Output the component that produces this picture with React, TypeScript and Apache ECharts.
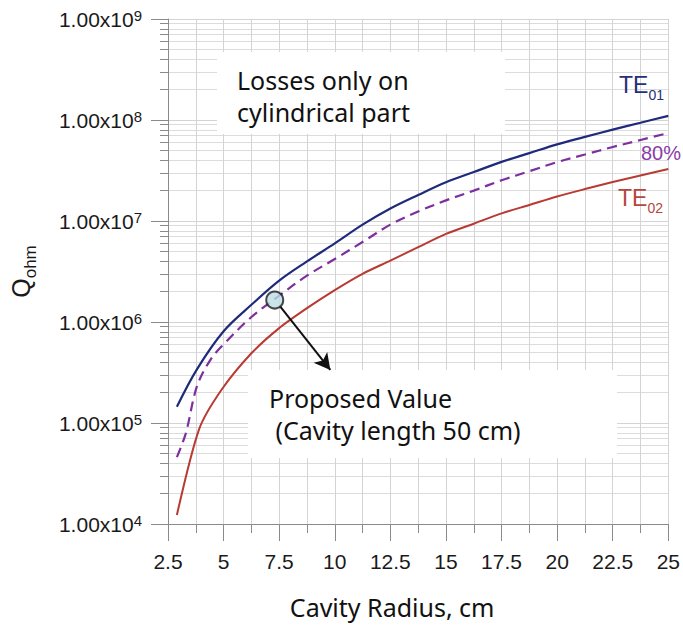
import React, { useEffect, useRef } from "react";
import * as echarts from "echarts";

// ---- data ----
const radiusTE01 = [2.9, 3.8, 5, 6.25, 7.5, 8.75, 10, 11.25, 12.5, 13.75, 15, 16.25, 17.5, 18.75, 20, 21.25, 22.5, 23.75, 25];
const qTE01 = [1.45e5, 3.4e5, 8.1e5, 1.48e6, 2.57e6, 3.98e6, 6.0e6, 9.2e6, 1.33e7, 1.81e7, 2.42e7, 3.05e7, 3.85e7, 4.7e7, 5.74e7, 6.8e7, 8.03e7, 9.4e7, 1.1e8];

const radius80 = [2.9, 3.3, 3.8, 4.4, 5, 6.25, 7.5, 8.75, 10, 11.25, 12.5, 13.75, 15, 16.25, 17.5, 18.75, 20, 21.25, 22.5, 23.75, 25];
const q80 = [4.6e4, 7.9e4, 2.3e5, 4.2e5, 6.0e5, 1.12e6, 1.82e6, 2.88e6, 4.2e6, 6.2e6, 9.2e6, 1.24e7, 1.6e7, 2.0e7, 2.53e7, 3.11e7, 3.83e7, 4.55e7, 5.4e7, 6.34e7, 7.43e7];

const radiusTE02 = [2.9, 3.9, 4.9, 6.25, 7.5, 8.75, 10, 11.25, 12.5, 13.75, 15, 16.25, 17.5, 18.75, 20, 21.25, 22.5, 23.75, 25];
const qTE02 = [1.23e4, 8.7e4, 2.12e5, 4.9e5, 8.7e5, 1.37e6, 2.07e6, 3.0e6, 4.05e6, 5.5e6, 7.45e6, 9.4e6, 1.19e7, 1.44e7, 1.75e7, 2.07e7, 2.43e7, 2.82e7, 3.27e7];

const proposedPoint = [7.3, 1.65e6];
const arrowStart = [7.55, 1.42e6];
const arrowEnd = [9.8, 3.35e5];

const xMin = 2.5;
const xMax = 25;
const xStep = 2.5;
const yMin = 1e4;
const yMax = 1e9;

const yTickMantissa = "1.00x10";
const xAxisTitle = "Cavity Radius, cm";
const noteTop = "Losses only on\ncylindrical part";
const noteBottom = "Proposed Value\n (Cavity length 50 cm)";

const SANS = "'Liberation Sans', Arial, sans-serif";
const COMIC = "'Comic Sans MS', 'Noto Sans', sans-serif";

const zip = (xs: number[], ys: number[]) => xs.map((x, i) => [x, ys[i]]);

export default function App() {
  const ref = useRef<HTMLDivElement>(null);

  useEffect(() => {
    document.body.style.margin = "0";
    if (!ref.current) return;
    const chart = echarts.init(ref.current, null, { renderer: "svg" });

    const option: any = {
      animation: false,
      backgroundColor: "#ffffff",
      grid: { left: 164, right: 12, top: 19, bottom: 102, containLabel: false },
      xAxis: {
        type: "value",
        min: xMin,
        max: xMax,
        interval: xStep,
        axisLine: { show: true, onZero: false, lineStyle: { color: "#8a8a8a", width: 1 } },
        axisTick: { show: true, length: 17, lineStyle: { color: "#8a8a8a" } },
        minorTick: { show: true, splitNumber: 2, length: 9, lineStyle: { color: "#8a8a8a" } },
        splitLine: { show: true, lineStyle: { color: "#d4d4d4", width: 1 } },
        minorSplitLine: { show: true, lineStyle: { color: "#d4d4d4", width: 1 } },
        axisLabel: { fontSize: 21, color: "#1a1a1a", margin: 27, fontFamily: SANS },
        name: xAxisTitle,
        nameLocation: "middle",
        nameGap: 70,
        nameTextStyle: { fontSize: 25, fontFamily: COMIC, color: "#111", padding: [0, 52, 0, 0] },
      },
      yAxis: {
        type: "log",
        logBase: 10,
        min: yMin,
        max: yMax,
        axisLine: { show: true, lineStyle: { color: "#8a8a8a", width: 1 } },
        axisTick: { show: true, length: 17, lineStyle: { color: "#8a8a8a" } },
        minorTick: { show: true, splitNumber: 9, length: 8, lineStyle: { color: "#8a8a8a" } },
        splitLine: { show: true, lineStyle: { color: "#d4d4d4", width: 1 } },
        minorSplitLine: { show: true, lineStyle: { color: "#dcdcdc", width: 1 } },
        axisLabel: {
          margin: 26,
          formatter: (v: number) => `{b|${yTickMantissa}}{s|${Math.round(Math.log10(v))}}`,
          rich: {
            b: { fontSize: 21, lineHeight: 21, verticalAlign: "bottom", color: "#1a1a1a", fontFamily: SANS },
            s: { fontSize: 15, lineHeight: 15, verticalAlign: "bottom", padding: [0, 0, 7, 0], color: "#1a1a1a", fontFamily: SANS },
          },
        },
        name: "{q|Q}{s|ohm}",
        nameLocation: "middle",
        nameRotate: 90,
        nameGap: 129,
        nameTextStyle: {
          rich: {
            q: { fontSize: 25, lineHeight: 25, verticalAlign: "bottom", padding: [0, 0, 6, 0], color: "#1a1a1a", fontFamily: SANS },
            s: { fontSize: 17, lineHeight: 17, verticalAlign: "bottom", color: "#1a1a1a", fontFamily: SANS },
          },
        },
      },
      series: [
        {
          name: "TE01",
          type: "line",
          data: zip(radiusTE01, qTE01),
          symbol: "none",
          smooth: 0.35,
          lineStyle: { color: "#1f2a7a", width: 2.2 },
          z: 3,
        },
        {
          name: "80%",
          type: "line",
          data: zip(radius80, q80),
          symbol: "none",
          smooth: 0.35,
          lineStyle: { color: "#7e2f9e", width: 2.2, type: [10, 6] },
          z: 3,
        },
        {
          name: "TE02",
          type: "line",
          data: zip(radiusTE02, qTE02),
          symbol: "none",
          smooth: 0.25,
          lineStyle: { color: "#b83a33", width: 2 },
          z: 3,
        },
        {
          name: "Proposed",
          type: "scatter",
          data: [proposedPoint],
          symbol: "circle",
          symbolSize: 17,
          itemStyle: { color: "#bcdfe5", borderColor: "#1b1b1b", borderWidth: 2 },
          z: 10,
          markLine: {
            silent: true,
            symbol: ["none", "arrow"],
            symbolSize: [13, 16],
            label: { show: false },
            lineStyle: { color: "#111", width: 2, type: "solid" },
            data: [[{ coord: arrowStart }, { coord: arrowEnd }]],
          },
        },
      ],
      graphic: [
        { type: "rect", z: 1, shape: { x: 217, y: 52, width: 288, height: 82 }, style: { fill: "#ffffff" } },
        {
          type: "text", z: 20, x: 237, y: 64,
          style: { text: noteTop, fontSize: 25, fontFamily: COMIC, fill: "#111", lineHeight: 32, align: "left", verticalAlign: "top" },
        },
        { type: "rect", z: 1, shape: { x: 248, y: 370, width: 369, height: 88 }, style: { fill: "#ffffff" } },
        {
          type: "text", z: 20, x: 269, y: 382,
          style: { text: noteBottom, fontSize: 25, fontFamily: COMIC, fill: "#111", lineHeight: 32, align: "left", verticalAlign: "top" },
        },
        {
          type: "text", z: 20, x: 619, y: 79,
          style: {
            text: "{a|TE}{b|01}", align: "left", verticalAlign: "top",
            rich: {
              a: { fontSize: 23, lineHeight: 23, verticalAlign: "bottom", padding: [0, 0, 6, 0], fill: "#25307a", fontFamily: SANS },
              b: { fontSize: 14, lineHeight: 14, verticalAlign: "bottom", fill: "#25307a", fontFamily: SANS },
            },
          },
        },
        {
          type: "text", z: 20, x: 641, y: 142,
          style: { text: "80%", fontSize: 20, lineHeight: 21, fontFamily: SANS, fill: "#8a3ca8", align: "left", verticalAlign: "top" },
        },
        {
          type: "text", z: 20, x: 618, y: 192,
          style: {
            text: "{a|TE}{b|02}", align: "left", verticalAlign: "top",
            rich: {
              a: { fontSize: 23, lineHeight: 23, verticalAlign: "bottom", padding: [0, 0, 6, 0], fill: "#b5473c", fontFamily: SANS },
              b: { fontSize: 14, lineHeight: 14, verticalAlign: "bottom", fill: "#b5473c", fontFamily: SANS },
            },
          },
        },
      ],
    };

    chart.setOption(option);
    return () => chart.dispose();
  }, []);

  return <div ref={ref} style={{ width: 683, height: 626 }} />;
}
